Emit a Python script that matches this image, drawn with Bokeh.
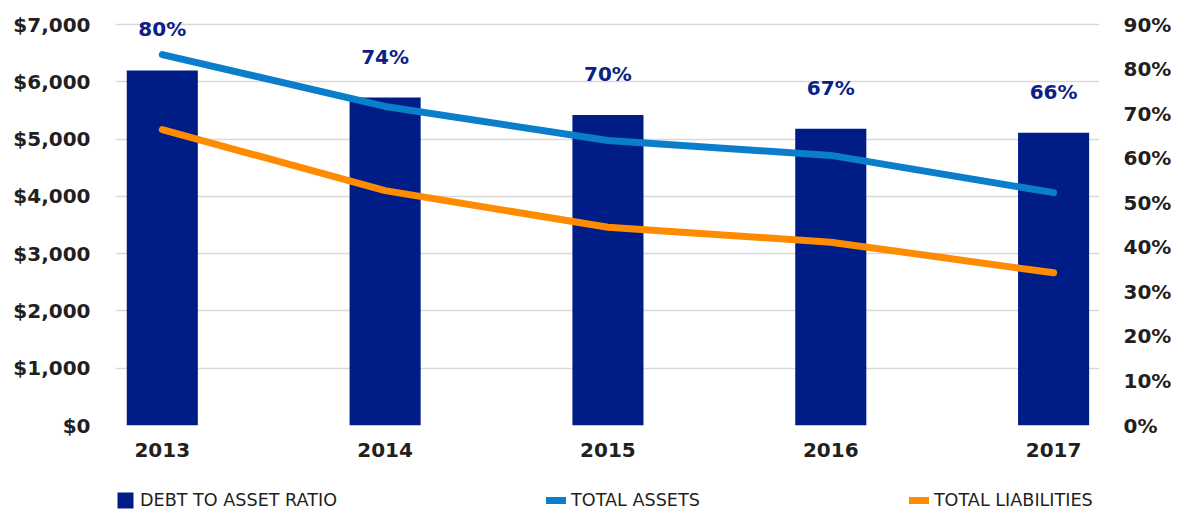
from bokeh.plotting import figure
from bokeh.layouts import column
from bokeh.models import (Range1d, LinearAxis, FixedTicker, NumeralTickFormatter,
                          Legend, LegendItem, ColumnDataSource)
from bokeh.core.properties import value
from bokeh.embed import file_html
from bokeh.resources import INLINE

years = ["2013", "2014", "2015", "2016", "2017"]
total_assets = [6475, 5570, 4975, 4715, 4065]
total_liabilities = [5165, 4100, 3460, 3200, 2665]
debt_to_asset = [0.797, 0.736, 0.697, 0.666, 0.657]
legend_labels = ["DEBT TO ASSET RATIO", "TOTAL ASSETS", "TOTAL LIABILITIES"]

xs = list(range(len(years)))
ratio_labels = [f"{round(v * 100)}%" for v in debt_to_asset]

src = ColumnDataSource(dict(x=xs, assets=total_assets, liab=total_liabilities,
                            ratio=debt_to_asset, lbl=ratio_labels))

FONT = "DejaVu Sans"
DARK = "#231f20"
NAVY = "#001c87"
BLUE = "#0a7dcb"
ORANGE = "#ff8b00"

# frame is extended 14px above the top gridline so the top data label is not clipped
AXIS_PX = 401.0
FRAME_PX = 415.0
stretch = FRAME_PX / AXIS_PX

p = figure(width=1177, height=470, output_backend="svg", toolbar_location=None,
           x_range=Range1d(-0.21, 4.206), y_range=Range1d(0, 7000 * stretch),
           min_border_left=115, min_border_right=78, min_border_top=10,
           min_border_bottom=45)
p.extra_y_ranges = {"pct": Range1d(0, 0.9 * stretch)}
p.outline_line_color = None

bars = p.vbar(x="x", top="ratio", width=0.319, source=src, y_range_name="pct",
              fill_color=NAVY, line_color=None)
la = p.line(x="x", y="assets", source=src, line_color=BLUE, line_width=7,
            line_cap="round", line_join="round")
ll = p.line(x="x", y="liab", source=src, line_color=ORANGE, line_width=7,
            line_cap="round", line_join="round")

p.text(x="x", y="ratio", text="lbl", source=src, y_range_name="pct",
       y_offset=-41, text_align="center", text_baseline="middle",
       text_font=value(FONT), text_font_style="bold", text_font_size="20px",
       text_color="#0a2288")


def style_axis(ax, standoff):
    ax.axis_line_color = None
    ax.major_tick_line_color = None
    ax.minor_tick_line_color = None
    ax.major_tick_in = 0
    ax.major_tick_out = 0
    ax.major_label_standoff = standoff
    ax.major_label_text_font = FONT
    ax.major_label_text_font_style = "bold"
    ax.major_label_text_font_size = "20px"
    ax.major_label_text_color = DARK


p.xaxis.ticker = FixedTicker(ticks=xs)
p.xaxis.major_label_overrides = {i: y for i, y in zip(xs, years)}
style_axis(p.xaxis[0], 17)

p.yaxis.ticker = FixedTicker(ticks=list(range(0, 7001, 1000)))
p.yaxis.formatter = NumeralTickFormatter(format="$0,0")
style_axis(p.yaxis[0], 25)

ra = LinearAxis(y_range_name="pct",
                ticker=FixedTicker(ticks=[i / 10 for i in range(10)]),
                formatter=NumeralTickFormatter(format="0%"))
style_axis(ra, 24)
p.add_layout(ra, "right")

p.xgrid.grid_line_color = None
p.ygrid.grid_line_color = "#d9d9d9"
p.ygrid.grid_line_width = 1.5

# legend strip below the chart (dummy renderers outside the visible range)
q = figure(width=1177, height=40, output_backend="svg", toolbar_location=None,
           x_range=Range1d(0, 1), y_range=Range1d(0, 1),
           x_axis_type=None, y_axis_type=None,
           min_border_left=115, min_border_right=78, min_border_top=0,
           min_border_bottom=0)
q.outline_line_color = None
q.grid.grid_line_color = None
lb = q.vbar(x=[0.5], top=[5], bottom=[5], width=0.0, fill_color=NAVY,
            line_color=None)
lla = q.line(x=[0.5], y=[5], line_color=BLUE, line_width=7, line_cap="round")
lll = q.line(x=[0.5], y=[5], line_color=ORANGE, line_width=7, line_cap="round")
legend = Legend(items=[LegendItem(label=legend_labels[0], renderers=[lb]),
                       LegendItem(label=legend_labels[1], renderers=[lla]),
                       LegendItem(label=legend_labels[2], renderers=[lll])],
                orientation="horizontal", location=(0, 0),
                glyph_width=20, glyph_height=20, label_standoff=5, spacing=209,
                padding=0, margin=0, border_line_color=None,
                background_fill_alpha=0, label_text_font=FONT,
                label_text_font_size="17.6px", label_text_color=DARK,
                label_height=17)
q.add_layout(legend, "center")

layout = column(p, q, spacing=0)
open("out.html", "w").write(file_html(layout, INLINE))
